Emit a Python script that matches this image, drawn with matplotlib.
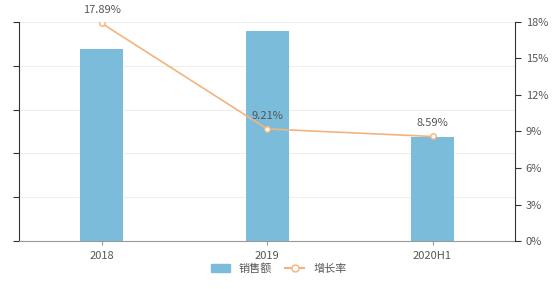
import matplotlib
matplotlib.use("Agg")
import matplotlib.pyplot as plt
from matplotlib.patches import Patch
from matplotlib.lines import Line2D

plt.rcParams['font.family'] = ['Noto Sans CJK SC', 'DejaVu Sans']

categories = ['2018', '2019', '2020H1']
sales = [219, 240, 119]
growth = [17.89, 9.21, 8.59]
growth_labels = ['17.89%', '9.21%', '8.59%']
pct_ticks = [0, 3, 6, 9, 12, 15, 18]

bar_color = '#7bbcdb'
line_color = '#f2b47e'
text_color = '#555555'

fig = plt.figure(figsize=(5.52, 2.89), dpi=100)
ax = fig.add_axes([0.0344, 0.166, 0.899, 0.758])
x = list(range(len(categories)))

ax.bar(x, sales, width=0.26, color=bar_color, zorder=2)
ax.set_ylim(0, 250)
ax.set_yticks([0, 50, 100, 150, 200, 250])
ax.set_yticklabels([])
ax.set_xlim(-0.5, 2.5)
ax.set_xticks(x)
ax.set_xticklabels(categories, fontsize=8, color=text_color)
ax.grid(axis='y', color='#eeeeee', linewidth=0.8, zorder=0)
ax.tick_params(axis='y', length=4, color='#333333')
ax.tick_params(axis='x', length=3, color='#999999', pad=4)
for s in ['top', 'right']:
    ax.spines[s].set_visible(False)
ax.spines['left'].set_color('#333333')
ax.spines['bottom'].set_color('#999999')

ax2 = ax.twinx()
ax2.plot(x, growth, color=line_color, linewidth=1.2, marker='o', markersize=4,
         markerfacecolor='white', markeredgecolor=line_color, zorder=3)
ax2.set_ylim(0, 18)
ax2.set_yticks(pct_ticks)
ax2.set_yticklabels([f'{t}%' for t in pct_ticks], fontsize=8, color=text_color)
ax2.tick_params(axis='y', length=4, color='#333333')
for s in ['top', 'left', 'bottom']:
    ax2.spines[s].set_visible(False)
ax2.spines['right'].set_color('#333333')
for xi, g, lab in zip(x, growth, growth_labels):
    ax2.annotate(lab, (xi, g), xytext=(0, 6), textcoords='offset points',
                 ha='center', va='bottom', fontsize=8, color=text_color)

handles = [Patch(color=bar_color),
           Line2D([0], [0], color=line_color, marker='o', markersize=5,
                  markerfacecolor='white', markeredgecolor=line_color)]
fig.legend(handles, ['销售额', '增长率'], loc='center', bbox_to_anchor=(0.505, 0.072),
           ncol=2, frameon=False, fontsize=8, handlelength=1.7, columnspacing=1.2,
           labelcolor=text_color)

fig.savefig('out.png', dpi=100)
